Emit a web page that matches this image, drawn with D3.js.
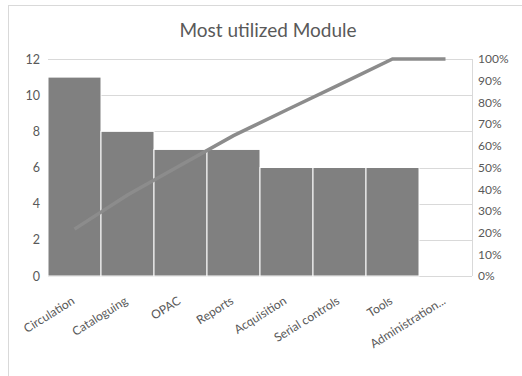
<!DOCTYPE html>
<html><head><meta charset="utf-8">
<script src="https://cdn.jsdelivr.net/npm/d3@7"></script>
<style>body{margin:0;background:#fff}svg{display:block}</style>
</head><body>
<svg id="c" width="522" height="376"></svg>
<script>
const categories = ["Circulation","Cataloguing","OPAC","Reports","Acquisition","Serial controls","Tools","Administration..."];
const counts = [11, 8, 7, 7, 6, 6, 6, 0];
const cumulativePct = [21.6, 37.3, 51.0, 64.7, 76.5, 88.2, 100, 100];
const leftTicks = [0,2,4,6,8,10,12];
const rightTicks = [0,10,20,30,40,50,60,70,80,90,100];
const title = "Most utilized Module";

const svg = d3.select("#c");
const W = 522, H = 376;
const m = {l:48, r:50, t:59, b:100};
const x0 = m.l, x1 = W - m.r, y0 = H - m.b, y1 = m.t;
const font = "Lato, 'Open Sans', sans-serif";
const txt = "#595959";

svg.append("rect").attr("x",8.5).attr("y",5.5).attr("width",W).attr("height",H).attr("fill","#fff").attr("stroke","#d9d9d9");

const x = d3.scaleBand().domain(categories).range([x0,x1]).padding(0);
const yL = d3.scaleLinear().domain([0,12]).range([y0,y1]);
const yR = d3.scaleLinear().domain([0,100]).range([y0,y1]);

// gridlines
svg.append("g").selectAll("line").data(leftTicks).join("line")
  .attr("x1",x0).attr("x2",x1).attr("y1",d=>Math.round(yL(d))+0.5).attr("y2",d=>Math.round(yL(d))+0.5)
  .attr("stroke","#d9d9d9").attr("stroke-width",1);
svg.append("line").attr("x1",x1+0.5).attr("x2",x1+0.5).attr("y1",y1).attr("y2",y0).attr("stroke","#d9d9d9");

// bars
svg.append("g").selectAll("rect").data(counts).join("rect")
  .attr("x",(d,i)=>x(categories[i]))
  .attr("width",x.bandwidth())
  .attr("y",d=>yL(d)).attr("height",d=>y0-yL(d))
  .attr("fill","#808080").attr("stroke","#fff").attr("stroke-width",1);

// cumulative line
const line = d3.line().x((d,i)=>x(categories[i])+x.bandwidth()/2).y(d=>yR(d));
svg.append("path").datum(cumulativePct).attr("d",line)
  .attr("fill","none").attr("stroke","#8c8c8c").attr("stroke-width",3.5);

// left axis
const gl = svg.append("g").attr("transform",`translate(${x0-8},0)`)
  .call(d3.axisLeft(yL).tickValues(leftTicks).tickSize(0).tickPadding(0));
gl.select(".domain").remove();
gl.selectAll("text").attr("fill",txt).style("font-family",font).style("font-size","12.5px");

// right axis
const gr = svg.append("g").attr("transform",`translate(${x1+6},0)`)
  .call(d3.axisRight(yR).tickValues(rightTicks).tickFormat(d=>d+"%").tickSize(0).tickPadding(0));
gr.select(".domain").remove();
gr.selectAll("text").attr("fill",txt).style("font-family",font).style("font-size","12px");

// bottom axis
const gb = svg.append("g").attr("transform",`translate(0,${y0})`)
  .call(d3.axisBottom(x).tickSize(0).tickPadding(0));
gb.select(".domain").remove();
gb.selectAll("text")
  .attr("text-anchor","end").attr("dy",0).attr("y",0)
  .attr("transform",`translate(1,27) rotate(-32)`)
  .attr("fill",txt).style("font-family",font).style("font-size","12px");

svg.append("text").attr("x",268).attr("y",37).attr("text-anchor","middle")
  .attr("fill",txt).style("font-family",font).style("font-size","19px").text(title);
</script>
</body></html>
